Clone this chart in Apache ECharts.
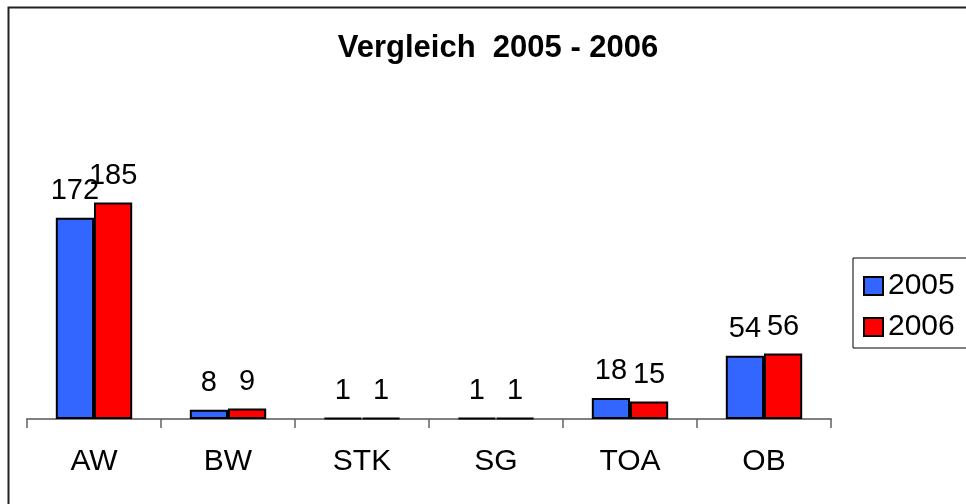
<!DOCTYPE html>
<html>
<head>
<meta charset="utf-8">
<script src="https://cdn.jsdelivr.net/npm/echarts@6/dist/echarts.min.js"></script>
<style>
  html, body { margin: 0; padding: 0; background: #fff; }
  #chart { width: 966px; height: 504px; }
</style>
</head>
<body>
<div id="chart"></div>
<script>
var categories = ['AW', 'BW', 'STK', 'SG', 'TOA', 'OB'];
var years = ['2005', '2006'];
var values2005 = [172, 8, 1, 1, 18, 54];
var values2006 = [185, 9, 1, 1, 15, 56];

var font = 'Liberation Sans, Arial, sans-serif';
var chart = echarts.init(document.getElementById('chart'));

function bar(name, data, color) {
  return {
    name: name,
    type: 'bar',
    data: data,
    barGap: '0%',
    barCategoryGap: '43%',
    itemStyle: { color: color, borderColor: '#000', borderWidth: 2 },
    label: {
      show: true,
      position: 'top',
      distance: 12,
      color: '#000',
      fontFamily: font,
      fontSize: 29
    },
    emphasis: { disabled: true }
  };
}

var option = {
  backgroundColor: '#fff',
  animation: false,
  title: {
    text: 'Vergleich  2005 - 2006',
    left: 493,
    textAlign: 'center',
    top: 28,
    textStyle: { fontFamily: font, fontSize: 31, fontWeight: 'bold', color: '#000' }
  },
  legend: {
    data: years,
    orient: 'vertical',
    left: 853,
    top: 258,
    padding: [13, 30, 6, 10],
    itemGap: 11,
    itemWidth: 19,
    itemHeight: 18,
    borderColor: '#000',
    borderWidth: 1,
    icon: 'rect',
    textStyle: { fontFamily: font, fontSize: 30, color: '#000' }
  },
  grid: { left: 27, right: 135, top: 185, bottom: 85, containLabel: false },
  xAxis: {
    type: 'category',
    data: categories,
    axisLine: { lineStyle: { color: '#808080', width: 2 } },
    axisTick: { show: true, length: 9, lineStyle: { color: '#606060', width: 1.5 } },
    axisLabel: { margin: 28, color: '#000', fontFamily: font, fontSize: 30 }
  },
  yAxis: {
    type: 'value',
    min: 0,
    max: 200,
    show: false,
    splitLine: { show: false }
  },
  graphic: [{
    type: 'rect',
    shape: { x: 8.5, y: 7.5, width: 1000, height: 600 },
    style: { fill: 'none', stroke: '#222', lineWidth: 2 },
    silent: true
  }],
  series: [
    bar(years[0], values2005, '#3366FF'),
    bar(years[1], values2006, '#FF0000')
  ]
};

chart.setOption(option);
</script>
</body>
</html>
